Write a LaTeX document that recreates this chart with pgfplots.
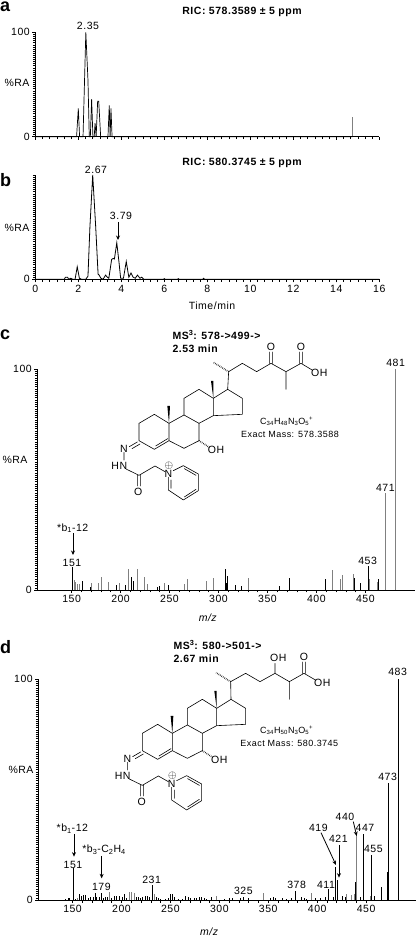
\documentclass[border=0pt]{standalone}
\usepackage{fontspec}
\setmainfont[LetterSpace=5]{Liberation Sans}
\usepackage{pgfplots}
\pgfplotsset{compat=1.18}
\usetikzlibrary{arrows.meta}
\newcommand{\fs}{\fontsize{10.5}{12}\selectfont}
\newcommand{\fb}{\fontsize{10.5}{12}\selectfont\bfseries}
\newcommand{\fm}{\fontsize{9}{10}\selectfont}
\newcommand{\fl}{\fontsize{18}{20}\selectfont\bfseries}
\definecolor{gbar}{gray}{0.5}
\pgfplotsset{
  base/.style={
    scale only axis, clip=false,
    axis x line*=bottom, axis y line*=left,
    axis line style={line width=0.9pt},
    tick align=outside, ymin=0, ymax=100,
    major tick length=3pt, minor tick length=2.5pt,
    every tick/.style={black,line width=0.5pt},
    every minor tick/.style={black,line width=0.5pt},
    tick label style={font=\fs},
    /pgf/number format/assume math mode=true,
    xticklabel style={yshift=1pt},
    yticklabel style={xshift=1pt},
    scaled ticks=false,
  },
  rt/.style={base,width=344pt,xmin=0,xmax=16,xtick={0,2,...,16},minor x tick num=5,
    ytick={0,100},minor y tick num=49},
  ms/.style={base,height=221pt,xmin=115,xmax=501,xtick={150,200,...,450},minor x tick num=4,
    ytick={0,100},minor y tick num=99},
  st/.style={ycomb,no marks,line width=0.6pt,black},
  sg/.style={ycomb,no marks,line width=1pt,gbar},
}
\newcommand{\steroid}{%
  \draw[line width=0.6pt,line join=round,line cap=round]
   (640,235)--(683,208)--(727,235)--(727,283)--(640,287)--cycle
   (640,235)--(597,208)--(552,235)--(552,285)--(597,310)--(640,287)
   (552,285)--(507,310)--(507,362)--(552,385)--(597,362)--(597,310)
   (507,310)--(463,283)--(417,310)--(417,362)--(463,388)--(507,362)
   (467,378)--(503,356)
   (412,366)--(388,380) (420,372)--(396,386)
   (372,397)--(372,420)
   (378,447)--(417,466)--(465,438)--(495,455)
   (412,466)--(412,498) (421,466)--(421,498)
   (505,472)--(505,510)--(550,540)--(595,512)--(595,462)--(550,437)--(520,452)
   (513,480)--(513,505) (553,531)--(588,508) (553,446)--(588,466);
  \fill (640,235)--(633,183)--(640,183)--cycle;
  \fill (507,310)--(502,258)--(510,258)--cycle;
  \draw[line width=1.6pt,dash pattern=on 0.5pt off 1.2pt] (597,362)--(628,382);
  \node[font=\fs] at (648,390) {OH};
  \node[font=\fs] at (372,387) {N};
  \node[font=\fs] at (358,437) {HN};
  \node[font=\fs] at (505,462) {N};
  \node[font=\fs] at (507,437) {$\oplus$};
  \node[font=\fs] at (415,515) {O};
}
\begin{document}
\begin{tikzpicture}
\useasboundingbox (0,0) rectangle (416pt,939pt);

% ---------- a
\begin{axis}[rt,at={(35.3pt,802.3pt)},anchor=south west,height=104.4pt,xticklabels={}]
\addplot[line width=0.7pt,black] coordinates {
 (0,0)(1.92,0)(2.0,27)(2.06,0)(2.22,0)(2.35,100)(2.45,54)(2.51,0)(2.56,0)(2.62,36)(2.68,0)
 (2.74,0)(2.78,13)(2.83,0)(2.9,34)(2.95,34)(3.04,0)(3.38,0)(3.44,30)(3.48,0)(3.52,27)(3.57,0)(14.75,0)};
\addplot[ycomb,no marks,line width=1.2pt,gbar] coordinates {(14.76,18.5)};
\addplot[line width=0.7pt,black] coordinates {(14.75,0)(16,0)};
\end{axis}

% ---------- b
\begin{axis}[rt,at={(35.3pt,659.7pt)},anchor=south west,height=104.3pt,ytick={0},minor ytick={2,4,...,100},
  axis y line*=left]
\addplot[line width=0.8pt,black] coordinates {
 (0,0)(1.35,0)(1.4,2)(1.5,2)(1.55,0)(1.65,1)(1.75,0)(1.85,0)(1.95,12)(2.05,1)(2.15,0)(2.35,0)(2.45,3)(2.54,50)
 (2.67,100)(2.81,50)(2.92,5)(2.97,4)(3.05,1)(3.15,0)(3.27,4)(3.35,2)(3.42,1)(3.55,19)(3.62,20)(3.68,19.5)
 (3.79,35)(3.9,15)(3.97,1)(4.1,1)(4.23,17)(4.35,2)(4.45,6)(4.55,2)(4.65,1)(4.75,4)(4.87,1)(4.95,2)(5.05,0)
 (5.95,0)(6.0,0.6)(6.05,0)(6.6,0)(6.65,0.6)(6.7,0)(7.78,0)(7.83,1)(7.88,0)(16,0)};
\end{axis}

% ---------- c
\begin{axis}[ms,at={(37.3pt,349pt)},anchor=south west,width=378pt]
\addplot[st] coordinates {(151,10.6)(160.9,4)(168.7,1.5)(195.9,2.3)(204.7,2.3)(210.9,5.9)(212.9,3.9)
 (237.7,1.5)(239.1,1.7)(248.6,2.3)(306.8,9.7)(307.8,3)(308.8,6.2)(317,2.4)(323.1,1.8)(361.9,1.8)(372.1,5.4)
 (408.8,5.1)(439.1,5.3)(444.5,3.2)(453,10.7)(462.9,4.8)};
\addplot[sg] coordinates {(153,4.5)(154.4,3.6)(156.4,2.9)(158.5,2.7)(170.4,3)(177.2,3)(180.6,5.7)(188.1,3.5)
 (199,3)(208.1,9.5)(217.7,9.5)(224.8,5.7)(227.2,2.9)(244.9,3)(265.6,2.6)(268.7,5.1)(288.1,4.2)(294.9,5.4)
 (330.6,5.4)(416.3,8.9)(424.8,5.1)(426.5,6.6)(438.1,7.1)(454,5.1)(462.2,3.6)(471,44)(481,100)};
\end{axis}

% ---------- d
\begin{axis}[ms,at={(38.3pt,39pt)},anchor=south west,width=377.7pt]
\addplot[st] coordinates {(142.1,.5)(145.5,.8)(146.6,1)(151,14.3)(152.4,.6)(156.8,2.5)(158.8,2)
 (160.9,2.4)(162.9,2.3)(166,1)(168.4,1.2)(171.1,1.5)(172.8,3)(174.5,1.5)(176.9,1.3)(179,3.3)(181.3,1)(183.4,1.5)
 (185.4,1.2)(189.9,1)(192.2,1.6)(195,1.8)(197.7,1.8)(200.4,1.3)(203.1,2.7)(205.2,1)(214.7,1.5)(216.8,1.2)(218.8,.8)
 (221.5,1.3)(223.9,1.6)(226.3,1.9)(228.7,1.3)(231,6.6)(235.9,1.2)(237.6,.8)(240,.5)(244.4,.5)(247.8,.8)(250.2,2.6)
 (251.9,2.9)(253.6,1.5)(258,.5)(262.4,.5)(265.5,1.8)(268.2,1.3)(270.6,1)(274,.9)(276.8,.9)(279.5,1.5)(281.9,1.4)
 (284.3,.9)(287,.5)(292.1,1.5)(304.7,.5)(310.2,.8)(313.2,.9)(321.7,.8)(325,1.5)(329.6,.7)(352.4,1)(355.1,1.4)
 (356.8,1)(364.7,1)(368.8,.6)(373.9,.8)(378,4.2)(384.1,1.2)(386.5,.9)(389.2,.6)(397.7,1)(402.9,.9)(408,1.2)
 (411,4.8)(416.5,1.2)(419,14.8)(421,9)(426,2)(428.4,1.2)(439.3,8.3)(443.7,1.2)(447,29.7)(455,20.4)(458.7,2)
 (465.6,5.7)(471.7,12.8)(473,53)(483,100)};
\addplot[sg,line width=0.8pt] coordinates {(154.7,1)(188.1,3.8)(208.6,3.8)(210.6,3.5)(212.7,3)(233.5,2.5)(297.2,1.7)
 (344.9,3)(393.7,3.3)(430,2.6)(435.2,2.3)(437.6,2.7)(440,29.4)(453.9,2)};
\end{axis}

\begin{scope}[x=1pt,y=-1pt,yshift=939pt]
 \node[font=\fl,anchor=base west,inner sep=0] at (0,11.5) {a};
 \node[font=\fl,anchor=base west,inner sep=0] at (0,187) {b};
 \node[font=\fl,anchor=base west,inner sep=0] at (0,340) {c};
 \node[font=\fl,anchor=base west,inner sep=0] at (0,654) {d};
 \node[font=\fb] at (242,12) {RIC: 578.3589 ± 5 ppm};
 \node[font=\fb] at (242,162.5) {RIC: 580.3745 ± 5 ppm};
 \node[font=\fs] at (88,26) {2.35};
 \node[font=\fs] at (96,170) {2.67};
 \node[font=\fs] at (121,216) {3.79};
 \draw[-{Stealth[length=4.5pt,width=4pt]},line width=0.8pt] (118,222)--(118,240);
 \node[font=\fs] at (17,83) {\%RA};
 \node[font=\fs] at (17,228) {\%RA};
 \node[font=\fs] at (15,460) {\%RA};
 \node[font=\fs] at (21,770) {\%RA};
 \node[font=\fs] at (212,306) {Time/min};
\end{scope}

% zoomed coordinates: 1 unit = 1/3 px, origin at panel offset
\begin{scope}[x=0.33333pt,y=-0.33333pt,yshift=619pt] % y offset 320
 \steroid
 \draw[line width=0.6pt,line join=round,line cap=round]
  (683,208)--(686,155)--(727,130)--(770,155)--(813,130)--(858,155)--(903,130)--(938,151)
  (858,155)--(858,208)
  (809,130)--(809,96) (817,130)--(817,96)
  (899,130)--(899,96) (907,130)--(907,96);
 \draw[line width=1.6pt,dash pattern=on 0.5pt off 1.2pt] (686,155)--(640,127);
 \node[font=\fs] at (813,80) {O};
 \node[font=\fs] at (903,80) {O};
 \node[font=\fs] at (958,158) {OH};
 \node[font=\fb,anchor=west,inner sep=0] at (517,45) {MS\textsuperscript{3}: 578->499->};
 \node[font=\fb,anchor=west,inner sep=0] at (517,85) {2.53 min};
 \node[font=\fm] at (860,303) {C\textsubscript{34}H\textsubscript{48}N\textsubscript{3}O\textsubscript{5}\textsuperscript{+}};
 \node[font=\fm] at (870,343) {Exact Mass: 578.3588};
 \node[font=\fs] at (1187,128) {481};
 \node[font=\fs] at (1156,505) {471};
 \node[font=\fs] at (1103,722) {453};
 \node[font=\fs] at (216,728) {151};
 \node[font=\fs] at (218,625) {*b\textsubscript{1}-12};
 \draw[-{Stealth[length=4.5pt,width=4pt]},line width=0.8pt] (219,640)--(219,705);
 \node[font=\fs] at (624,892) {\textit{m/z}};
\end{scope}

\begin{scope}[x=0.33333pt,y=-0.33333pt,yshift=309pt] % y offset 630
 \begin{scope}[xshift=3.33pt]\steroid\end{scope}
 \draw[line width=0.6pt,line join=round,line cap=round]
  (693,208)--(692,155)--(737,130)--(780,155)--(825,130)--(868,155)--(912,130)--(948,151)
  (868,155)--(868,208)
  (825,130)--(825,100)
  (908,130)--(908,96) (916,130)--(916,96);
 \draw[line width=1.6pt,dash pattern=on 0.5pt off 1.2pt] (692,155)--(648,128);
 \node[font=\fs] at (835,83) {OH};
 \node[font=\fs] at (912,80) {O};
 \node[font=\fs] at (967,158) {OH};
 \node[font=\fb,anchor=west,inner sep=0] at (520,45) {MS\textsuperscript{3}: 580->501->};
 \node[font=\fb,anchor=west,inner sep=0] at (520,85) {2.67 min};
 \node[font=\fm] at (860,300) {C\textsubscript{34}H\textsubscript{50}N\textsubscript{3}O\textsubscript{5}\textsuperscript{+}};
 \node[font=\fm] at (868,340) {Exact Mass: 580.3745};
 \node[font=\fs] at (1193,127) {483};
 \node[font=\fs] at (1163,440) {473};
 \node[font=\fs] at (217,597) {*b\textsubscript{1}-12};
 \draw[-{Stealth[length=4.5pt,width=4pt]},line width=0.8pt] (222,612)--(222,680);
 \node[font=\fs] at (219,705) {151};
 \node[font=\fs] at (312,660) {*b\textsubscript{3}-C\textsubscript{2}H\textsubscript{4}};
 \draw[-{Stealth[length=4.5pt,width=4pt]},line width=0.8pt] (305,678)--(305,745);
 \node[font=\fs] at (304,772) {179};
 \node[font=\fs] at (455,750) {231};
 \node[font=\fs] at (730,784) {325};
 \node[font=\fs] at (890,765) {378};
 \node[font=\fs] at (978,765) {411};
 \node[font=\fs] at (955,593) {419};
 \draw[-{Stealth[length=4.5pt,width=4pt]},line width=0.8pt] (963,608)--(1008,705);
 \node[font=\fs] at (1015,627) {421};
 \draw[-{Stealth[length=4.5pt,width=4pt]},line width=0.8pt] (1017,645)--(1017,743);
 \node[font=\fs] at (1035,561) {440};
 \draw[-{Stealth[length=4.5pt,width=4pt]},line width=0.8pt] (1060,575)--(1070,618);
 \node[font=\fs] at (1095,595) {447};
 \node[font=\fs] at (1120,658) {455};
 \node[font=\fs] at (628,906) {\textit{m/z}};
\end{scope}
\end{tikzpicture}
\end{document}
